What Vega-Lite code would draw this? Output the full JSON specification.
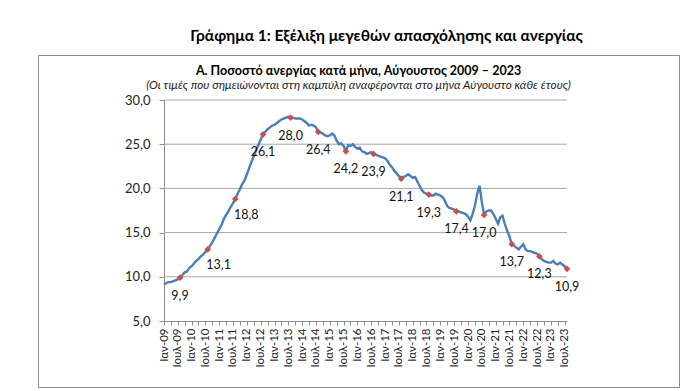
{
  "$schema": "https://vega.github.io/schema/vega-lite/v6.json",
  "padding": {"left": 37, "top": 29, "right": 22, "bottom": 3},
  "background": "white",
  "config": {
    "locale": {"number": {"decimal": ",", "thousands": ".", "grouping": [3], "currency": ["", " €"]}},
    "font": "Lato",
    "view": {"stroke": "#8c8c8c", "strokeWidth": 1}
  },
  "title": {
    "text": "Γράφημα 1: Εξέλιξη μεγεθών απασχόλησης και ανεργίας",
    "fontSize": 15.5, "fontWeight": "bold", "font": "Lato", "color": "#000",
    "anchor": "middle", "dx": 28, "offset": 10
  },
  "vconcat": [
    {
      "width": 641,
      "height": 332,
      "title": {
        "text": "Α. Ποσοστό ανεργίας κατά μήνα, Αύγουστος 2009 – 2023",
        "subtitle": "(Οι τιμές που σημειώνονται στη καμπύλη αναφέρονται στο μήνα Αύγουστο κάθε έτους)",
        "frame": "group", "anchor": "middle", "offset": -37,
        "fontSize": 12.5, "fontWeight": "bold", "color": "#000", "font": "Lato",
        "subtitleFontSize": 11.8, "subtitleFontStyle": "italic", "subtitleColor": "#222", "subtitleFont": "Lato",
        "subtitlePadding": 3
      },
      "data": {"values": [
        {"d":"2009-01-01","v":9.1},{"d":"2009-02-01","v":9.3},{"d":"2009-03-01","v":9.4},{"d":"2009-04-01","v":9.4},{"d":"2009-05-01","v":9.5},{"d":"2009-06-01","v":9.6},{"d":"2009-07-01","v":9.7},{"d":"2009-08-01","v":9.9},{"d":"2009-09-01","v":10.2},{"d":"2009-10-01","v":10.5},{"d":"2009-11-01","v":10.6},{"d":"2009-12-01","v":11.0},
        {"d":"2010-01-01","v":11.2},{"d":"2010-02-01","v":11.5},{"d":"2010-03-01","v":11.8},{"d":"2010-04-01","v":12.0},{"d":"2010-05-01","v":12.3},{"d":"2010-06-01","v":12.5},{"d":"2010-07-01","v":12.8},{"d":"2010-08-01","v":13.1},{"d":"2010-09-01","v":13.5},{"d":"2010-10-01","v":13.9},{"d":"2010-11-01","v":14.4},{"d":"2010-12-01","v":14.9},
        {"d":"2011-01-01","v":15.4},{"d":"2011-02-01","v":15.9},{"d":"2011-03-01","v":16.5},{"d":"2011-04-01","v":17.0},{"d":"2011-05-01","v":17.4},{"d":"2011-06-01","v":17.9},{"d":"2011-07-01","v":18.3},{"d":"2011-08-01","v":18.8},{"d":"2011-09-01","v":19.4},{"d":"2011-10-01","v":19.9},{"d":"2011-11-01","v":20.5},{"d":"2011-12-01","v":20.9},
        {"d":"2012-01-01","v":21.6},{"d":"2012-02-01","v":22.3},{"d":"2012-03-01","v":23.0},{"d":"2012-04-01","v":23.6},{"d":"2012-05-01","v":24.3},{"d":"2012-06-01","v":24.9},{"d":"2012-07-01","v":25.5},{"d":"2012-08-01","v":26.1},{"d":"2012-09-01","v":26.4},{"d":"2012-10-01","v":26.7},{"d":"2012-11-01","v":26.9},{"d":"2012-12-01","v":27.1},
        {"d":"2013-01-01","v":27.2},{"d":"2013-02-01","v":27.4},{"d":"2013-03-01","v":27.6},{"d":"2013-04-01","v":27.8},{"d":"2013-05-01","v":27.9},{"d":"2013-06-01","v":28.0},{"d":"2013-07-01","v":28.1},{"d":"2013-08-01","v":28.0},{"d":"2013-09-01","v":28.0},{"d":"2013-10-01","v":27.9},{"d":"2013-11-01","v":27.9},{"d":"2013-12-01","v":27.9},
        {"d":"2014-01-01","v":27.8},{"d":"2014-02-01","v":27.6},{"d":"2014-03-01","v":27.4},{"d":"2014-04-01","v":27.1},{"d":"2014-05-01","v":27.2},{"d":"2014-06-01","v":27.1},{"d":"2014-07-01","v":26.9},{"d":"2014-08-01","v":26.4},{"d":"2014-09-01","v":26.3},{"d":"2014-10-01","v":26.2},{"d":"2014-11-01","v":26.0},{"d":"2014-12-01","v":25.9},
        {"d":"2015-01-01","v":26.0},{"d":"2015-02-01","v":26.2},{"d":"2015-03-01","v":26.0},{"d":"2015-04-01","v":25.4},{"d":"2015-05-01","v":25.0},{"d":"2015-06-01","v":25.1},{"d":"2015-07-01","v":24.8},{"d":"2015-08-01","v":24.2},{"d":"2015-09-01","v":24.9},{"d":"2015-10-01","v":24.8},{"d":"2015-11-01","v":25.0},{"d":"2015-12-01","v":24.7},
        {"d":"2016-01-01","v":24.5},{"d":"2016-02-01","v":24.6},{"d":"2016-03-01","v":24.2},{"d":"2016-04-01","v":24.1},{"d":"2016-05-01","v":23.9},{"d":"2016-06-01","v":24.0},{"d":"2016-07-01","v":24.1},{"d":"2016-08-01","v":23.9},{"d":"2016-09-01","v":23.8},{"d":"2016-10-01","v":23.7},{"d":"2016-11-01","v":23.6},{"d":"2016-12-01","v":23.5},
        {"d":"2017-01-01","v":23.4},{"d":"2017-02-01","v":23.1},{"d":"2017-03-01","v":22.7},{"d":"2017-04-01","v":22.4},{"d":"2017-05-01","v":22.0},{"d":"2017-06-01","v":21.7},{"d":"2017-07-01","v":21.4},{"d":"2017-08-01","v":21.1},{"d":"2017-09-01","v":21.3},{"d":"2017-10-01","v":21.4},{"d":"2017-11-01","v":21.6},{"d":"2017-12-01","v":21.4},
        {"d":"2018-01-01","v":21.2},{"d":"2018-02-01","v":21.3},{"d":"2018-03-01","v":20.8},{"d":"2018-04-01","v":20.3},{"d":"2018-05-01","v":19.8},{"d":"2018-06-01","v":19.5},{"d":"2018-07-01","v":19.4},{"d":"2018-08-01","v":19.3},{"d":"2018-09-01","v":19.2},{"d":"2018-10-01","v":19.2},{"d":"2018-11-01","v":19.4},{"d":"2018-12-01","v":19.3},
        {"d":"2019-01-01","v":19.2},{"d":"2019-02-01","v":19.0},{"d":"2019-03-01","v":18.6},{"d":"2019-04-01","v":18.0},{"d":"2019-05-01","v":17.8},{"d":"2019-06-01","v":17.7},{"d":"2019-07-01","v":17.6},{"d":"2019-08-01","v":17.4},{"d":"2019-09-01","v":17.4},{"d":"2019-10-01","v":17.3},{"d":"2019-11-01","v":17.2},{"d":"2019-12-01","v":17.1},
        {"d":"2020-01-01","v":16.8},{"d":"2020-02-01","v":16.4},{"d":"2020-03-01","v":17.1},{"d":"2020-04-01","v":18.0},{"d":"2020-05-01","v":19.4},{"d":"2020-06-01","v":20.3},{"d":"2020-07-01","v":18.5},{"d":"2020-08-01","v":17.0},{"d":"2020-09-01","v":17.4},{"d":"2020-10-01","v":17.5},{"d":"2020-11-01","v":17.5},{"d":"2020-12-01","v":17.1},
        {"d":"2021-01-01","v":16.6},{"d":"2021-02-01","v":16.0},{"d":"2021-03-01","v":16.7},{"d":"2021-04-01","v":16.9},{"d":"2021-05-01","v":16.0},{"d":"2021-06-01","v":15.2},{"d":"2021-07-01","v":14.6},{"d":"2021-08-01","v":13.7},{"d":"2021-09-01","v":13.5},{"d":"2021-10-01","v":13.3},{"d":"2021-11-01","v":13.1},{"d":"2021-12-01","v":13.4},
        {"d":"2022-01-01","v":13.7},{"d":"2022-02-01","v":13.1},{"d":"2022-03-01","v":12.9},{"d":"2022-04-01","v":12.9},{"d":"2022-05-01","v":12.8},{"d":"2022-06-01","v":12.7},{"d":"2022-07-01","v":12.6},{"d":"2022-08-01","v":12.3},{"d":"2022-09-01","v":12.0},{"d":"2022-10-01","v":11.8},{"d":"2022-11-01","v":11.7},{"d":"2022-12-01","v":11.6},
        {"d":"2023-01-01","v":11.6},{"d":"2023-02-01","v":11.8},{"d":"2023-03-01","v":11.5},{"d":"2023-04-01","v":11.4},{"d":"2023-05-01","v":11.6},{"d":"2023-06-01","v":11.4},{"d":"2023-07-01","v":11.2},{"d":"2023-08-01","v":10.9}
      ]},
      "layer": [
        {
          "data": {"values": [{"g": 10}, {"g": 15}, {"g": 20}, {"g": 25}, {"g": 30}]},
          "mark": {"type": "rule", "color": "#a6a6a6", "strokeWidth": 1},
          "encoding": {
            "y": {"field": "g", "type": "quantitative"},
            "x": {"datum": {"year": 2009, "month": 1, "date": 1, "utc": true}, "type": "temporal"},
            "x2": {"datum": {"year": 2023, "month": 8, "date": 1, "utc": true}}
          }
        },
        {
          "mark": {"type": "line", "color": "#4a7ebb", "strokeWidth": 2.4},
          "encoding": {
            "x": {
              "field": "d", "type": "temporal",
              "scale": {"type": "utc", "domain": [{"year": 2009, "month": 1, "date": 1, "utc": true}, {"year": 2023, "month": 8, "date": 1, "utc": true}], "range": [126, 529], "nice": false},
              "axis": {
                "title": null, "offset": -66, "grid": false,
                "tickCount": {"interval": "month", "step": 3},
                "labelExpr": "utcmonth(datum.value)==0 ? 'Ιαν-' + utcFormat(datum.value, '%y') : (utcmonth(datum.value)==6 ? 'Ιουλ-' + utcFormat(datum.value, '%y') : '')",
                "labelAngle": 270, "labelFontSize": 11.5, "labelColor": "#222", "labelPadding": 3,
                "labelOverlap": false, "labelFlush": false, "labelBound": false,
                "domainColor": "#8c8c8c", "tickColor": "#8c8c8c", "tickSize": 4
              }
            },
            "y": {
              "field": "v", "type": "quantitative",
              "scale": {"domain": [5, 30], "range": [266, 45], "nice": false, "zero": false},
              "axis": {
                "title": null, "offset": -126, "grid": false,
                "values": [5, 10, 15, 20, 25, 30], "format": ".1f",
                "labelFontSize": 13, "labelColor": "#222", "labelPadding": 9,
                "tickSize": 5, "tickColor": "#8c8c8c", "domainColor": "#8c8c8c"
              }
            }
          }
        },
        {
          "transform": [{"filter": "utcmonth(toDate(datum.d)) == 7"}],
          "mark": {"type": "point", "shape": "diamond", "filled": true, "color": "#c8504d", "size": 45, "opacity": 1},
          "encoding": {
            "x": {"field": "d", "type": "temporal"},
            "y": {"field": "v", "type": "quantitative"}
          }
        },
        {
          "transform": [{"filter": "utcmonth(toDate(datum.d)) == 7 && utcyear(toDate(datum.d)) != 2010 && utcyear(toDate(datum.d)) != 2011"}],
          "mark": {"type": "text", "dy": 18, "fontSize": 12.5, "color": "#111"},
          "encoding": {
            "x": {"field": "d", "type": "temporal"},
            "y": {"field": "v", "type": "quantitative"},
            "text": {"field": "v", "type": "quantitative", "format": ".1f"}
          }
        },
        {
          "transform": [{"filter": "utcmonth(toDate(datum.d)) == 7 && (utcyear(toDate(datum.d)) == 2010 || utcyear(toDate(datum.d)) == 2011)"}],
          "mark": {"type": "text", "dy": 16, "dx": 11, "fontSize": 12.5, "color": "#111"},
          "encoding": {
            "x": {"field": "d", "type": "temporal"},
            "y": {"field": "v", "type": "quantitative"},
            "text": {"field": "v", "type": "quantitative", "format": ".1f"}
          }
        }
      ]
    }
  ]
}
